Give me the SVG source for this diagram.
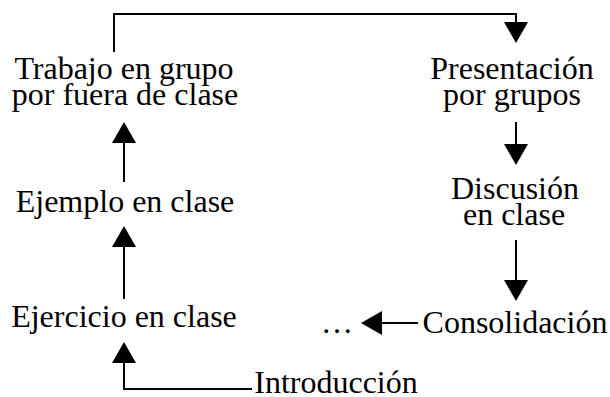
<svg xmlns="http://www.w3.org/2000/svg" width="610" height="397" viewBox="0 0 610 397">
<style>
text{font-family:"Liberation Serif","Times New Roman",serif;font-size:32px;fill:#000;text-anchor:middle}
.c{fill:none;stroke:#000;stroke-width:2}
</style>
<defs>
<marker id="ah" viewBox="0 0 21 24" refX="0" refY="12" markerWidth="21" markerHeight="24" markerUnits="userSpaceOnUse" orient="auto"><path d="M0,0 L21,12 L0,24 z" fill="#000"/></marker>
</defs>
<rect width="610" height="397" fill="#fff"/>
<g id="connectors">
<path class="c" d="M114,52 V14 H516 V22" marker-end="url(#ah)"/>
<path class="c" d="M516,122 V144" marker-end="url(#ah)"/>
<path class="c" d="M516,240 V280" marker-end="url(#ah)"/>
<path class="c" d="M418,323 H382" marker-end="url(#ah)"/>
<path class="c" d="M252,389 H124 V363" marker-end="url(#ah)"/>
<path class="c" d="M124,299 V247" marker-end="url(#ah)"/>
<path class="c" d="M124,182 V143" marker-end="url(#ah)"/>
</g>
<g id="trabajo"><text x="124" y="79">Trabajo en grupo</text><text x="125" y="105">por fuera de clase</text></g>
<g id="presentacion"><text x="512" y="79">Presentación</text><text x="512" y="105">por grupos</text></g>
<g id="discusion"><text x="515" y="199">Discusión</text><text x="514" y="225">en clase</text></g>
<g id="consolidacion"><text x="515" y="333">Consolidación</text></g>
<g id="etc"><text x="337" y="333">…</text></g>
<g id="ejemplo"><text x="125" y="212">Ejemplo en clase</text></g>
<g id="ejercicio"><text x="124" y="327">Ejercicio en clase</text></g>
<g id="introduccion"><text x="336" y="393">Introducción</text></g>
</svg>
